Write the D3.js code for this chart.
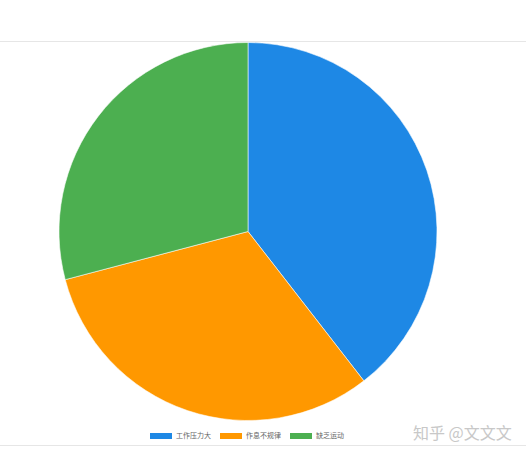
<!DOCTYPE html>
<html>
<head>
<meta charset="utf-8">
<script src="https://cdn.jsdelivr.net/npm/d3@7"></script>
<style>
  body { margin: 0; background: #fff; }
  svg { display: block; font-family: "Noto Sans CJK SC", sans-serif; }
</style>
</head>
<body>
<svg id="pie" width="526" height="454"></svg>
<script>
// values (percent)
const categories = ["工作压力大", "作息不规律", "缺乏运动"];
const values = [39.5, 31.4, 29.1];
const colors = ["#1E88E5", "#FF9800", "#4CAF50"];

const svg = d3.select("svg#pie");
const width = +svg.attr("width");

// top and bottom rules
svg.append("line").attr("x1", 0).attr("x2", width).attr("y1", 41.5).attr("y2", 41.5)
  .attr("stroke", "#e6e6e6").attr("stroke-width", 1);
svg.append("line").attr("x1", 0).attr("x2", width).attr("y1", 445.5).attr("y2", 445.5)
  .attr("stroke", "#e6e6e6").attr("stroke-width", 1);

const cx = 248, cy = 231.5, radius = 189;
const pie = d3.pie().sort(null).value(d => d);
const arc = d3.arc().innerRadius(0).outerRadius(radius);
const color = d3.scaleOrdinal().domain(categories).range(colors);

const chart = svg.append("g").attr("transform", `translate(${cx},${cy})`);
chart.selectAll("path")
  .data(pie(values))
  .enter()
  .append("path")
  .attr("d", arc)
  .attr("fill", (d, i) => color(categories[i]))
  .attr("stroke", "#fff")
  .attr("stroke-width", 0.8)
  .attr("stroke-opacity", 0.7);

// legend
const legendX = d3.scalePoint().domain(categories).range([150, 290]);
const legend = svg.append("g").selectAll("g").data(categories).enter().append("g")
  .attr("transform", d => `translate(${legendX(d)},433)`);
legend.append("rect").attr("width", 22).attr("height", 6).attr("fill", d => color(d));
legend.append("text").text(d => d)
  .attr("x", 26).attr("y", 3)
  .attr("dominant-baseline", "middle")
  .style("font-size", "7px")
  .attr("fill", "#666");

// watermark
svg.append("text").text("知乎 @文文文")
  .attr("x", 413).attr("y", 439)
  .style("font-size", "16px")
  .attr("fill", "#c8c8c8");
</script>
</body>
</html>
